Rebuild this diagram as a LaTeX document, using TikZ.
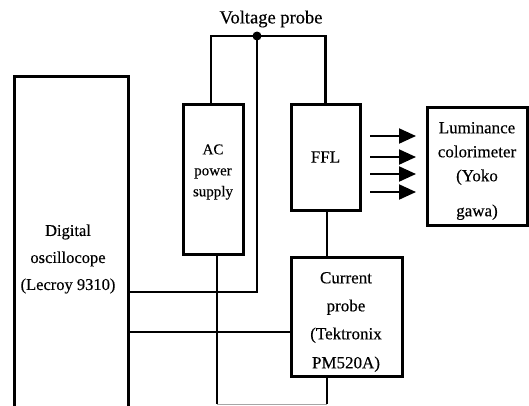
\documentclass[tikz,border=0pt]{standalone}
\usepackage{fontspec}
\setmainfont{Liberation Serif}[FakeBold=0.3]
\usetikzlibrary{arrows.meta,calc}
\tikzset{
  box/.style={draw, line width=3pt, inner sep=0pt, align=center},
  wire/.style={line width=2.2pt},
  ray/.style={line width=2pt, -{Triangle[length=17pt,width=15pt]}},
  txt/.style={font=\fontsize{17}{27}\selectfont}
}
\begin{document}
\begin{tikzpicture}[x=1pt,y=-1pt]
\clip (0,0) rectangle (529,405);
\fill[white] (0,0) rectangle (529,405);
% boxes
\node[box, minimum width=114pt, minimum height=344pt] (scope) at (71,248) {};
\node[font=\fontsize{16.5}{27}\selectfont, align=center] (scopetxt) at (68,259) {Digital\\oscillocope\\(Lecroy\ 9310)};
\node[box, minimum width=60pt, minimum height=150pt] (ac) at (213,179) {};
\node[font=\fontsize{15}{21}\selectfont, align=center] (actxt) at (213,172) {AC\\power\\supply};
\node[box, minimum width=69pt, minimum height=106pt, txt] (ffl) at (325.5,157) {FFL};
\node[box, minimum width=100pt, minimum height=118pt] (lum) at (477,166) {};
\node[txt, align=center] (lumtxt) at (477,171) {Luminance\\[-3pt]colorimeter\\[-3pt](Yoko\\[8pt]gawa)};
\node[box, minimum width=111pt, minimum height=119pt] (cur) at (346.5,316.5) {};
\node[txt, align=center] (curtxt) at (346,322) {Current\\[1pt]probe\\[1pt](Tektronix\\[2pt]PM520A)};
\node[font=\fontsize{18.5}{22}\selectfont] (vlabel) at (271,19) {Voltage probe};
% voltage probe wires
\coordinate (vtl) at (211,36);
\coordinate (vtr) at (ffl.north |- vtl);
\coordinate (dot) at (257,36);
\draw[wire] (211,0 |- ac.north) -- (vtl) -- (vtr) -- (ffl.north);
\fill (dot) circle (4.5pt);
\draw[wire] (dot) -- (257,292) -- (scope.east |- 0,292);
% FFL to current probe
\draw[wire] (327,0 |- ffl.south) -- (327,0 |- cur.north);
% current probe to scope
\draw[wire] (cur.west |- 0,332) -- (scope.east |- 0,332);
% bottom loop
\coordinate (bl) at (217,404);
\coordinate (br) at (327,404);
\draw[wire] (217,0 |- ac.south) -- (bl);
\draw[wire] (327,0 |- cur.south) -- (br);
\draw[line width=0.8pt, black!35] (bl) -- (br);
% light arrows
\foreach \y/\n in {136/1,157/2,174/3,192/4}{
  \coordinate (as\n) at (370,\y);
  \coordinate (ae\n) at (416,\y);
  \draw[ray] (as\n) -- (ae\n);
}
\end{tikzpicture}
\end{document}
